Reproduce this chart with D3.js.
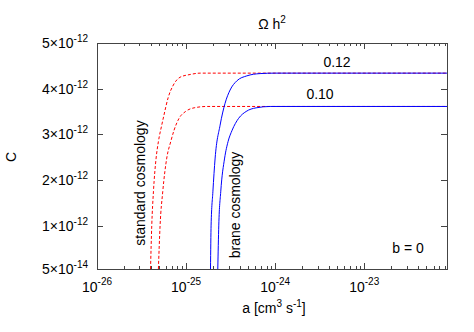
<!DOCTYPE html>
<html>
<head>
<meta charset="utf-8">
<script src="https://cdn.jsdelivr.net/npm/d3@7"></script>
<style>
  body { margin: 0; background: #fff; }
  text { font-family: "Liberation Sans", Arial, sans-serif; fill: #000; }
</style>
</head>
<body>
<svg id="chart" width="474" height="332"></svg>
<script>
// cross section a [cm^3 s^-1] vs C (in units of 1e-12)
const stdA_012 = [3.99e-26, 4.12e-26, 4.30e-26, 4.61e-26, 4.89e-26, 5.33e-26, 5.60e-26, 6.33e-26, 7.20e-26, 8.56e-26, 1.11e-25, 1.44e-25, 8.5e-23];
const stdC_012 = [0.05, 1.01, 1.74, 2.48, 2.84, 3.20, 3.39, 3.82, 4.08, 4.25, 4.31, 4.34, 4.34];
const stdA_010 = [4.89e-26, 5.11e-26, 5.47e-26, 6.07e-26, 6.73e-26, 7.33e-26, 8.34e-26, 9.87e-26, 1.23e-25, 1.73e-25, 8.5e-23];
const stdC_010 = [0.05, 1.01, 1.74, 2.48, 2.84, 3.09, 3.35, 3.50, 3.58, 3.61, 3.61];
const braneA_012 = [1.88e-25, 1.91e-25, 2.00e-25, 2.12e-25, 2.41e-25, 2.74e-25, 3.12e-25, 3.71e-25, 4.81e-25, 6.78e-25, 1.0e-24, 8.5e-23];
const braneC_012 = [0.05, 1.01, 1.74, 2.48, 3.20, 3.68, 3.97, 4.17, 4.28, 4.33, 4.34, 4.34];
const braneA_010 = [2.27e-25, 2.33e-25, 2.45e-25, 2.71e-25, 2.96e-25, 3.29e-25, 3.89e-25, 4.72e-25, 6.11e-25, 8.79e-25, 8.5e-23];
const braneC_010 = [0.05, 1.01, 1.74, 2.48, 2.84, 3.09, 3.35, 3.50, 3.58, 3.61, 3.61];

const xTicks = [1e-26, 1e-25, 1e-24, 1e-23];
const xTickExp = ["-26", "-25", "-24", "-23"];
const yTicks = [0.05, 1, 2, 3, 4, 5];
const yTickMant = ["5", "1", "2", "3", "4", "5"];
const yTickExp = ["-14", "-12", "-12", "-12", "-12", "-12"];

const margin = { top: 43, left: 97 };
const width = 350, height = 226;

const svg = d3.select("#chart");
const g = svg.append("g").attr("transform", `translate(${margin.left},${margin.top})`);

const x = d3.scaleLog().domain([1e-26, 8.5e-23]).range([0, width]);
const y = d3.scaleLinear().domain([0.05, 5]).range([height, 0]);

g.append("clipPath").attr("id", "clip")
  .append("rect").attr("width", width).attr("height", height);

const line = d3.line()
  .x(d => x(d[0]))
  .y(d => y(d[1]))
  .curve(d3.curveMonotoneX);

const curves = g.append("g").attr("clip-path", "url(#clip)");
function drawCurve(as, cs, color, dash) {
  curves.append("path")
    .datum(as.map((a, i) => [a, cs[i]]))
    .attr("d", line)
    .attr("fill", "none")
    .attr("stroke", color)
    .attr("stroke-width", 1)
    .attr("stroke-dasharray", dash);
}
drawCurve(stdA_012, stdC_012, "#ff0000", "3,2");
drawCurve(stdA_010, stdC_010, "#ff0000", "3,2");
drawCurve(braneA_012, braneC_012, "#0000ff", null);
drawCurve(braneA_010, braneC_010, "#0000ff", null);

// minor log ticks
const minor = [];
for (let e = -26; e <= -23; e++) {
  for (let k = 2; k <= 9; k++) {
    const v = k * Math.pow(10, e);
    if (v <= 8.5e-23) minor.push(v);
  }
}
const axisColor = "#444";
const ticks = g.append("g").attr("stroke", axisColor).attr("stroke-width", 1);
minor.forEach(v => {
  const px = Math.round(x(v)) + 0.5;
  ticks.append("line").attr("x1", px).attr("x2", px).attr("y1", height).attr("y2", height - 3);
  ticks.append("line").attr("x1", px).attr("x2", px).attr("y1", 0).attr("y2", 3);
});
xTicks.forEach(v => {
  const px = Math.round(x(v)) + 0.5;
  ticks.append("line").attr("x1", px).attr("x2", px).attr("y1", height).attr("y2", height - 6);
  ticks.append("line").attr("x1", px).attr("x2", px).attr("y1", 0).attr("y2", 6);
});
yTicks.forEach(v => {
  const py = Math.round(y(v)) + 0.5;
  ticks.append("line").attr("x1", 0).attr("x2", 6).attr("y1", py).attr("y2", py);
  ticks.append("line").attr("x1", width).attr("x2", width - 6).attr("y1", py).attr("y2", py);
});

// frame
g.append("rect")
  .attr("x", 0.5).attr("y", 0.5)
  .attr("width", width).attr("height", height)
  .attr("fill", "none").attr("stroke", axisColor).attr("stroke-width", 1);

// x tick labels
xTicks.forEach((v, i) => {
  const t = g.append("text")
    .attr("x", x(v))
    .attr("y", height + 23)
    .attr("text-anchor", "middle")
    .style("font-size", "14px");
  t.append("tspan").text("10");
  t.append("tspan").attr("dy", -7).style("font-size", "10px").text(xTickExp[i]);
});

// y tick labels
yTicks.forEach((v, i) => {
  const t = g.append("text")
    .attr("x", -9)
    .attr("y", y(v) + 5)
    .attr("text-anchor", "end")
    .style("font-size", "14px");
  t.append("tspan").text(yTickMant[i] + "\u00d710");
  t.append("tspan").attr("dy", -6).style("font-size", "10px").text(yTickExp[i]);
});

// title and axis labels
const title = svg.append("text")
  .attr("x", 272).attr("y", 29)
  .attr("text-anchor", "middle")
  .style("font-size", "14px");
title.append("tspan").text("\u03a9 h");
title.append("tspan").attr("dy", -6).style("font-size", "10px").text("2");

const xl = svg.append("text")
  .attr("x", 274).attr("y", 313)
  .attr("text-anchor", "middle")
  .style("font-size", "14px");
xl.append("tspan").text("a [cm");
xl.append("tspan").attr("dy", -6).style("font-size", "10px").text("3");
xl.append("tspan").attr("dy", 6).text(" s");
xl.append("tspan").attr("dy", -6).style("font-size", "10px").text("-1");
xl.append("tspan").attr("dy", 6).text("]");

svg.append("text")
  .attr("transform", "translate(16,157) rotate(-90)")
  .attr("text-anchor", "middle")
  .style("font-size", "14px")
  .text("C");

// annotations
svg.append("text").attr("x", 337).attr("y", 67).attr("text-anchor", "middle")
  .style("font-size", "14px").text("0.12");
svg.append("text").attr("x", 320).attr("y", 99).attr("text-anchor", "middle")
  .style("font-size", "14px").text("0.10");
svg.append("text").attr("x", 408).attr("y", 253).attr("text-anchor", "middle")
  .style("font-size", "14px").text("b = 0");
svg.append("text")
  .attr("transform", "translate(145,183) rotate(-90)")
  .attr("text-anchor", "middle")
  .style("font-size", "14px")
  .text("standard cosmology");
svg.append("text")
  .attr("transform", "translate(240,205) rotate(-90)")
  .attr("text-anchor", "middle")
  .style("font-size", "14px")
  .text("brane cosmology");
</script>
</body>
</html>
